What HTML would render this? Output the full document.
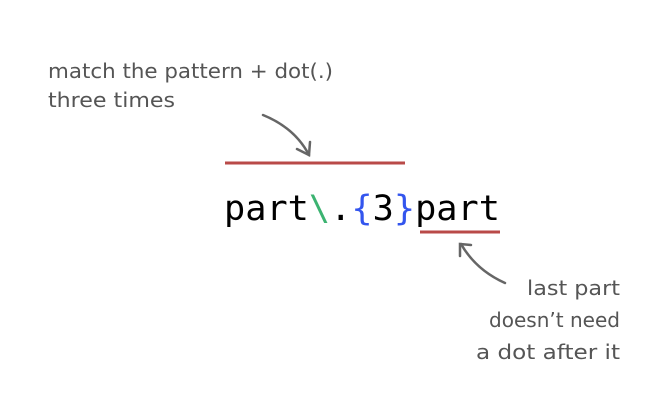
<!DOCTYPE html>
<html><head><meta charset="utf-8"><style>
html,body{margin:0;padding:0;background:#fff;width:669px;height:414px;overflow:hidden}
svg{display:block}
.l{font-family:"Comic Sans MS","DejaVu Sans",sans-serif;font-size:20px;fill:#555}
.c{font-family:"DejaVu Sans Mono","Liberation Mono",monospace;font-size:35px}
</style></head><body>
<svg width="669" height="414" viewBox="0 0 669 414">
<text class="l" x="48" y="78" textLength="285" lengthAdjust="spacingAndGlyphs">match the pattern + dot(.)</text>
<text class="l" x="48" y="107" textLength="127" lengthAdjust="spacingAndGlyphs">three times</text>
<text class="l" x="527" y="295" textLength="93" lengthAdjust="spacingAndGlyphs">last part</text>
<text class="l" x="489" y="327" textLength="131" lengthAdjust="spacingAndGlyphs">doesn’t need</text>
<text class="l" x="476" y="359" textLength="144" lengthAdjust="spacingAndGlyphs">a dot after it</text>
<line x1="225" y1="163" x2="405" y2="163" stroke="#b94a48" stroke-width="3"/>
<line x1="420" y1="232" x2="500" y2="232" stroke="#b94a48" stroke-width="3"/>
<text class="c" x="224" y="220" textLength="276" lengthAdjust="spacingAndGlyphs"><tspan fill="#000">part</tspan><tspan fill="#3cb371">\</tspan><tspan fill="#000">.</tspan><tspan fill="#3355ee">{</tspan><tspan fill="#000">3</tspan><tspan fill="#3355ee">}</tspan><tspan fill="#000">part</tspan></text>
<g fill="none" stroke="#666" stroke-width="2.5" stroke-linecap="round">
<path d="M263 115 Q295 128 309 155"/>
<path d="M297 149 L309 155 L310 142"/>
<path d="M505 283 Q476 270 461 244"/>
<path d="M460 256 L460 244 L471 245"/>
</g>
</svg>
</body></html>
